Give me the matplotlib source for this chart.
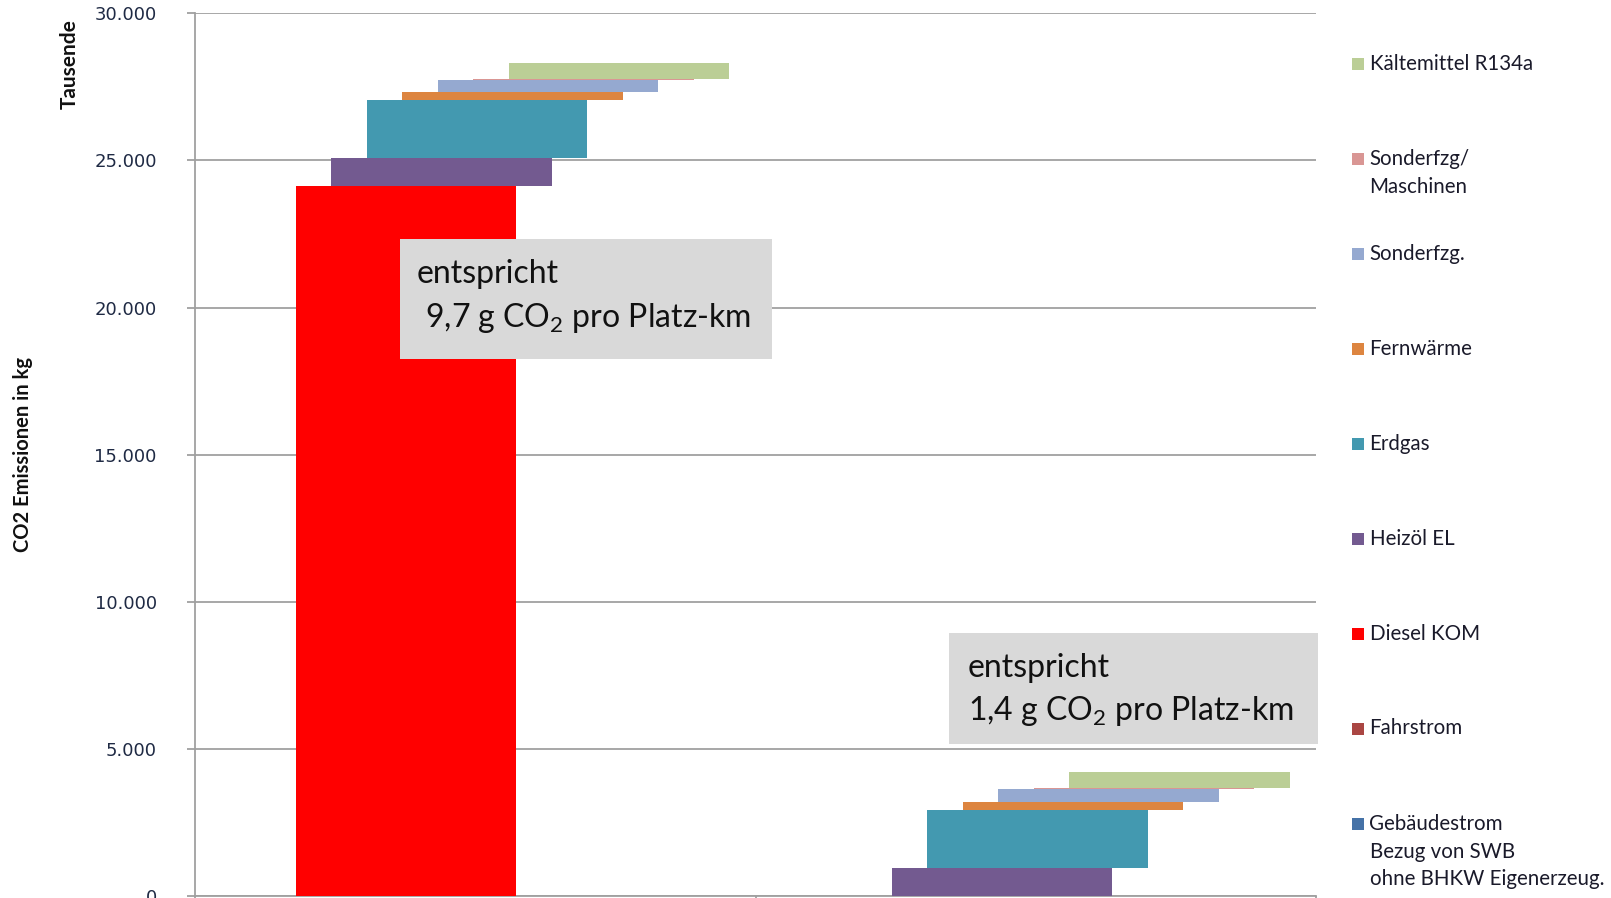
import matplotlib
matplotlib.use('Agg')
import matplotlib.pyplot as plt
from matplotlib.patches import Rectangle
from matplotlib.ticker import FixedLocator, FuncFormatter

# ---------------- data (Tausend kg CO2) ----------------
categories = ['Kategorie 1', 'Kategorie 2']
series_names = ['Gebäudestrom\nBezug von SWB\nohne BHKW Eigenerzeug.', 'Fahrstrom', 'Diesel KOM',
                'Heizöl EL', 'Erdgas', 'Fernwärme', 'Sonderfzg.', 'Sonderfzg/\nMaschinen',
                'Kältemittel R134a']
gebaeudestrom = [0, 0]
fahrstrom = [0, 0]
diesel_kom = [24140, 0]
heizoel_el = [950, 960]
erdgas = [1950, 1960]
fernwaerme = [290, 280]
sonderfzg = [420, 430]
sonderfzg_maschinen = [30, 40]
kaeltemittel = [530, 540]
series_values = [gebaeudestrom, fahrstrom, diesel_kom, heizoel_el, erdgas, fernwaerme,
                 sonderfzg, sonderfzg_maschinen, kaeltemittel]
series_colors = ['#4572A7', '#AA4643', '#FF0000', '#735A90', '#4399B0', '#DD8540',
                 '#95A9D0', '#D99694', '#BBCE96']
yticks = [0, 5000, 10000, 15000, 20000, 25000, 30000]
box_texts = ['entspricht\n 9,7 g CO$_{\\mathregular{2}}$ pro Platz-km',
             'entspricht\n1,4 g CO$_{\\mathregular{2}}$ pro Platz-km']

W, H = 1611, 898
fig = plt.figure(figsize=(W / 100, H / 100), dpi=100)
ax = fig.add_axes([195 / W, (H - 895.9) / H, (1316 - 195) / W, (895.9 - 13.4) / H])

grid_c = '#A0A0A0'
bar_w = 0.3935
step = 0.0633
shift = 0.003
n = len(series_values)
span = (n - 1) * step + bar_w
bottoms = [0.0] * len(categories)
for i, (vals, col) in enumerate(zip(series_values, series_colors)):
    lefts = [c + 0.5 - span / 2 + shift + i * step for c in range(len(categories))]
    ax.bar(lefts, vals, width=bar_w, bottom=bottoms, align='edge', color=col,
           linewidth=0, zorder=3)
    bottoms = [b + v for b, v in zip(bottoms, vals)]

ax.set_xlim(0, len(categories))
ax.set_ylim(0, 30000)
ax.yaxis.set_major_locator(FixedLocator(yticks))
ax.yaxis.set_major_formatter(FuncFormatter(lambda v, p: f'{int(v):,}'.replace(',', '.')))
ax.set_xticks([0, 1, 2])
ax.set_xticklabels(['', '', ''])
ax.grid(axis='y', color=grid_c, linewidth=1.3, zorder=0)
ax.set_axisbelow(True)
for s in ['top', 'right']:
    ax.spines[s].set_visible(False)
for s in ['left', 'bottom']:
    ax.spines[s].set_color(grid_c)
    ax.spines[s].set_linewidth(1.3)
ax.tick_params(axis='y', colors=grid_c, length=6, width=1.3, labelcolor='#1F2A44',
               labelsize=13, pad=21.5)
ax.tick_params(axis='x', colors=grid_c, length=5, width=1.3)
for lab in ax.get_yticklabels():
    lab.set_fontfamily('DejaVu Sans')

# axis titles
fig.text(22.6 / W, 1 - 454.6 / H, 'CO2 Emissionen in kg', rotation=90, ha='center', va='center',
         fontsize=14.5, fontweight='bold', family='Lato', color='#111111')
fig.text(70 / W, 1 - 64 / H, 'Tausende', rotation=90, ha='center', va='center',
         fontsize=15, fontweight='bold', family='Lato', color='#111111')

# annotation boxes
boxes = [(400, 239, 772, 359, 417, 274, 318), (949, 633, 1318, 744, 968, 668, 711)]
for (x0, y0, x1, y1, tx, ty1, ty2), txt in zip(boxes, box_texts):
    fig.patches.append(Rectangle((x0 / W, 1 - y1 / H), (x1 - x0) / W, (y1 - y0) / H,
                                 transform=fig.transFigure, facecolor='#D9D9D9',
                                 edgecolor='none', zorder=5))
    l1, l2 = txt.split('\n')
    fig.text(tx / W, 1 - ty1 / H, l1, ha='left', va='center', fontsize=23, family='Lato',
             color='#111111', zorder=6)
    fig.text(tx / W, 1 - ty2 / H, l2, ha='left', va='center', fontsize=23, family='Lato',
             color='#111111', zorder=6)

# legend (reverse order)
leg_y = [63.5, 159, 253.5, 349, 443.5, 539, 634, 728.5, 824]
for k, idx in enumerate(range(n - 1, -1, -1)):
    y = leg_y[k]
    fig.patches.append(Rectangle((1352 / W, 1 - (y + 6) / H), 12 / W, 12 / H,
                                 transform=fig.transFigure, facecolor=series_colors[idx],
                                 edgecolor='none'))
    for j, line in enumerate(series_names[idx].split('\n')):
        fig.text(1369.5 / W, 1 - (y + j * 27.7) / H, line, ha='left', va='center',
                 fontsize=14.8, family='Lato', color='#1A1A2A')

fig.savefig('out.png', dpi=100)
